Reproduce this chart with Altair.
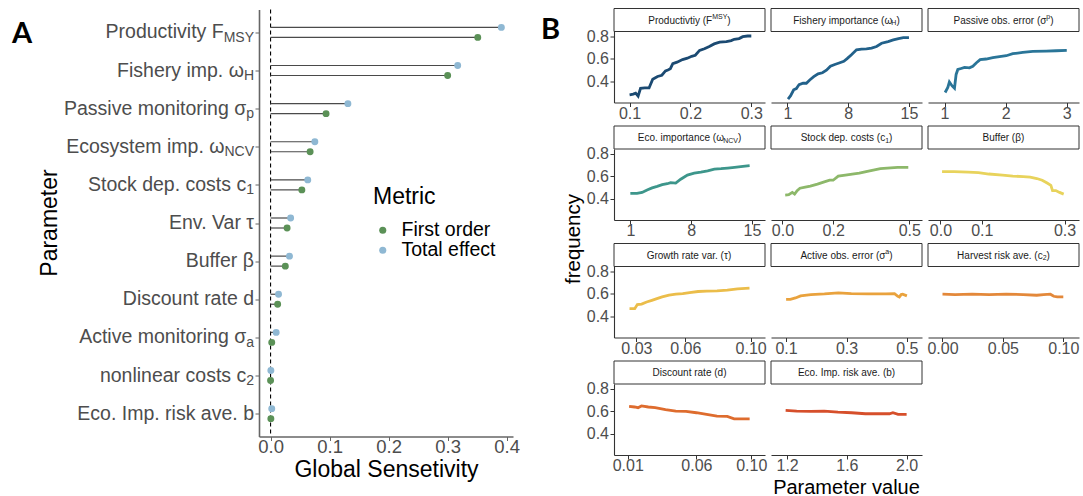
import altair as alt
import pandas as pd

FONT = "Liberation Sans"
GRAY = "#4d4d4d"
AXC = "#333333"

# ---------------- Panel A data ----------------
a_params = ["Productivity", "Fishery imp.", "Passive monitoring", "Ecosystem imp.",
            "Stock dep. costs", "Env. Var", "Buffer", "Discount rate",
            "Active monitoring", "nonlinear costs", "Eco. Imp. risk ave."]
a_label_main = ["Productivity F", "Fishery imp. ω", "Passive monitoring σ", "Ecosystem imp. ω",
                "Stock dep. costs c", "Env. Var τ", "Buffer β", "Discount rate d",
                "Active monitoring σ", "nonlinear costs c", "Eco. Imp. risk ave. b"]
a_label_sub = ["MSY", "H", "p", "NCV", "1", "", "", "", "a", "2", ""]
a_first_order = [0.351, 0.300, 0.094, 0.067, 0.053, 0.028, 0.025, 0.012, 0.002, 0.000, 0.0005]
a_total_effect = [0.391, 0.317, 0.131, 0.075, 0.063, 0.034, 0.032, 0.0135, 0.0095, 0.0005, 0.002]
metrics = ["First order", "Total effect"]
metric_colors = ["#5b9157", "#8fb8d3"]

# ---------------- Panel B data ----------------
b_main = ["Productivtiy (F", "Fishery importance (ω", "Passive obs. error (σ",
          "Eco. importance (ω", "Stock dep. costs (c", "Buffer (β)",
          "Growth rate var. (τ)", "Active obs. error (σ", "Harvest risk ave. (c",
          "Discount rate (d)", "Eco. Imp. risk ave. (b)"]
b_script = ["MSY", "H", "p", "NCV", "1", "", "", "a", "2", "", ""]
b_kind = ["sup", "sub", "sup", "sub", "sub", "", "", "sup", "sub", "", ""]
b_close = [")", ")", ")", ")", ")", "", "", ")", ")", "", ""]

prod_x = [0.100, 0.106, 0.110, 0.114, 0.118, 0.125, 0.132, 0.138, 0.146, 0.153, 0.159, 0.163,
          0.167, 0.171, 0.178, 0.187, 0.195, 0.202, 0.208, 0.215, 0.223, 0.231, 0.239, 0.248,
          0.259, 0.267, 0.272, 0.280, 0.286, 0.294, 0.300]
prod_y = [0.278, 0.284, 0.293, 0.267, 0.336, 0.339, 0.339, 0.417, 0.441, 0.452, 0.490, 0.499,
          0.510, 0.554, 0.568, 0.591, 0.603, 0.620, 0.629, 0.672, 0.687, 0.707, 0.730, 0.745,
          0.751, 0.759, 0.771, 0.777, 0.794, 0.800, 0.800]
fish_x = [1.08, 1.38, 1.73, 2.04, 2.35, 2.81, 3.19, 3.58, 4.04, 4.54, 5.04, 5.50, 5.96, 6.46,
          6.96, 7.50, 7.88, 8.38, 8.96, 9.54, 10.10, 10.70, 11.27, 11.85, 12.60, 13.20, 13.80,
          14.35, 15.00]
fish_y = [0.241, 0.270, 0.323, 0.334, 0.369, 0.381, 0.381, 0.410, 0.439, 0.465, 0.474, 0.497,
          0.532, 0.547, 0.561, 0.576, 0.599, 0.634, 0.678, 0.684, 0.686, 0.692, 0.707, 0.736,
          0.751, 0.765, 0.777, 0.785, 0.785]
pass_x = [1.01, 1.054, 1.08, 1.125, 1.163, 1.19, 1.218, 1.272, 1.327, 1.409, 1.463, 1.518,
          1.583, 1.681, 1.79, 1.90, 2.01, 2.117, 2.28, 2.444, 2.662, 2.826, 3.00]
pass_y = [0.299, 0.343, 0.392, 0.357, 0.337, 0.459, 0.503, 0.512, 0.521, 0.518, 0.532, 0.561,
          0.590, 0.596, 0.608, 0.617, 0.625, 0.643, 0.654, 0.663, 0.666, 0.669, 0.672]
eco_x = [1.0, 1.77, 2.35, 2.93, 3.51, 4.09, 4.67, 5.25, 5.64, 6.22, 6.80, 7.57, 8.35, 9.12,
         9.90, 10.67, 11.44, 12.20, 12.99, 13.96, 14.73]
eco_y = [0.446, 0.446, 0.455, 0.477, 0.495, 0.508, 0.523, 0.532, 0.542, 0.538, 0.572, 0.609,
         0.625, 0.634, 0.646, 0.662, 0.665, 0.671, 0.677, 0.686, 0.692]
stock_x = [0.011, 0.025, 0.039, 0.048, 0.058, 0.069, 0.090, 0.110, 0.138, 0.165, 0.186, 0.200,
           0.220, 0.248, 0.275, 0.303, 0.330, 0.358, 0.386, 0.413, 0.454, 0.496]
stock_y = [0.431, 0.434, 0.455, 0.440, 0.471, 0.492, 0.502, 0.511, 0.529, 0.548, 0.563, 0.563,
           0.600, 0.609, 0.618, 0.625, 0.640, 0.652, 0.665, 0.671, 0.677, 0.677]
buf_x = [0.004, 0.033, 0.067, 0.092, 0.117, 0.150, 0.175, 0.200, 0.217, 0.233, 0.246, 0.258,
         0.267, 0.271, 0.279, 0.288, 0.298]
buf_y = [0.640, 0.640, 0.634, 0.631, 0.618, 0.609, 0.600, 0.594, 0.591, 0.578, 0.563, 0.538,
         0.517, 0.471, 0.471, 0.455, 0.440]
grow_x = [0.0258, 0.029, 0.0306, 0.0332, 0.0363, 0.0395, 0.0426, 0.0458, 0.050, 0.0542,
          0.0584, 0.0626, 0.0678, 0.0731, 0.0794, 0.0857, 0.092, 0.0993]
grow_y = [0.466, 0.466, 0.502, 0.507, 0.525, 0.540, 0.555, 0.570, 0.585, 0.594, 0.600, 0.609,
          0.618, 0.621, 0.624, 0.630, 0.642, 0.648]
act_x = [0.100, 0.114, 0.131, 0.148, 0.182, 0.227, 0.273, 0.316, 0.373, 0.430, 0.459, 0.470,
         0.475, 0.481, 0.486, 0.500]
act_y = [0.549, 0.549, 0.561, 0.579, 0.591, 0.597, 0.606, 0.600, 0.597, 0.597, 0.600, 0.576,
         0.570, 0.591, 0.594, 0.579]
harv_x = [0.0, 0.0104, 0.0245, 0.0386, 0.0527, 0.0668, 0.078, 0.0837, 0.0893, 0.0921, 0.095, 0.100]
harv_y = [0.594, 0.591, 0.594, 0.591, 0.594, 0.591, 0.585, 0.591, 0.594, 0.576, 0.570, 0.570]
disc_x = [0.011, 0.015, 0.0175, 0.020, 0.025, 0.030, 0.0375, 0.045, 0.0525, 0.060, 0.0675,
          0.075, 0.0825, 0.0875, 0.0925, 0.0988]
disc_y = [0.642, 0.636, 0.630, 0.645, 0.636, 0.630, 0.612, 0.600, 0.597, 0.585, 0.570, 0.555,
          0.552, 0.531, 0.531, 0.531]
ecor_x = [1.19, 1.264, 1.356, 1.448, 1.54, 1.632, 1.724, 1.816, 1.885, 1.908, 1.943, 2.0]
ecor_y = [0.606, 0.600, 0.597, 0.600, 0.591, 0.585, 0.576, 0.576, 0.576, 0.585, 0.570, 0.570]

b_x = [prod_x, fish_x, pass_x, eco_x, stock_x, buf_x, grow_x, act_x, harv_x, disc_x, ecor_x]
b_y = [prod_y, fish_y, pass_y, eco_y, stock_y, buf_y, grow_y, act_y, harv_y, disc_y, ecor_y]
b_domains = [[0.0744, 0.3225], [-0.88, 16.5], [0.73, 3.2], [-0.88, 16.5], [-0.045, 0.55],
             [-0.03, 0.335], [0.0163, 0.1088], [0.05, 0.55], [-0.012, 0.113], [0.0, 0.11],
             [1.092, 2.103]]
b_ticks = [[0.1, 0.2, 0.3], [1, 8, 15], [1, 2, 3], [1, 8, 15], [0.0, 0.2, 0.5],
           [0.0, 0.1, 0.3], [0.03, 0.06, 0.10], [0.1, 0.3, 0.5], [0.0, 0.05, 0.10],
           [0.01, 0.06, 0.10], [1.2, 1.6, 2.0]]
b_formats = [".1f", "d", "d", "d", ".1f", ".1f", ".2f", ".1f", ".2f", ".2f", ".1f"]
b_colors = ["#1b4a72", "#22618a", "#2a7598", "#3d968b", "#8db86a", "#e8d35c",
            "#ebbd4a", "#e9a23d", "#e3883a", "#de6c2e", "#d64f2b"]
b_ydomain = [0.21, 0.84]
b_yticks = [0.4, 0.6, 0.8]

# ---------------- text width helper (Arial metrics) ----------------
_w = {}
for ch in "ijl": _w[ch] = 0.222
for ch in " .ft!I": _w[ch] = 0.278
for ch in "()r": _w[ch] = 0.333
for ch in "cksvxyzJ": _w[ch] = 0.5
for ch in "0123456789abdeghnopqu": _w[ch] = 0.556
for ch in "FTZ": _w[ch] = 0.611
for ch in "ABEKPSVXY": _w[ch] = 0.667
for ch in "CDHNRUw": _w[ch] = 0.722
for ch in "GOQ": _w[ch] = 0.778
for ch in "mM": _w[ch] = 0.833
_w["W"] = 0.944
_w["L"] = 0.556
_w["ω"] = 0.70
_w["σ"] = 0.60
_w["τ"] = 0.45
_w["β"] = 0.57


def tw(s, size):
    return sum(_w.get(ch, 0.556) for ch in s) * size


one = pd.DataFrame({"k": [0]})

# ---------------- Panel A ----------------
# panel A's plot area starts SHIFT px above panel B's first plot row
SHIFT = 22
WA, HA = 254, 427
HV = HA - SHIFT
rows_a = []
for p, f, t in zip(a_params, a_first_order, a_total_effect):
    rows_a.append({"param": p, "metric": metrics[0], "value": f})
    rows_a.append({"param": p, "metric": metrics[1], "value": t})
dfA = pd.DataFrame(rows_a)

SUBF = 14
MAINF = 19.5
dfL = pd.DataFrame({"param": a_params, "main": a_label_main, "sub": a_label_sub})
dfL["mx"] = [-5 - tw(s, SUBF) for s in a_label_sub]

xscA = alt.Scale(domain=[-0.0196, 0.4107], nice=False, zero=False)
yscA = alt.Scale(type="point", domain=a_params, padding=0.6, range=[-SHIFT, HV])
axXA = alt.Axis(values=[0.0, 0.1, 0.2, 0.3, 0.4], format=".1f", title="Global Sensetivity",
                titleFontSize=23, titleFontWeight="normal", titleColor="black", titlePadding=2,
                labelFontSize=18.5, labelColor=GRAY, labelPadding=-3, tickSize=4,
                tickColor="#666666", domainColor="#666666", domainWidth=1.6, grid=False,
                labelFlush=False)
axYA = alt.Axis(labels=False, ticks=True, tickSize=4, tickColor="#666666",
                domainColor="#666666", domainWidth=1.6, title=None, grid=False)
colA = alt.Color("metric:N", scale=alt.Scale(domain=metrics, range=metric_colors),
                 legend=alt.Legend(orient="none", legendX=114, legendY=176 - SHIFT,
                                   title="Metric", titleFontSize=23, titleFontWeight="normal",
                                   titleColor="black", labelFontSize=19.5, labelColor="black",
                                   symbolType="circle", symbolSize=50, symbolStrokeWidth=0,
                                   titlePadding=12, rowPadding=-5, padding=0, labelOffset=9))

baseA = alt.Chart(dfA)
layersA = [
    alt.Chart(one).transform_calculate(z="0").mark_rule(color="black", strokeDash=[4, 3],
                                                        strokeWidth=1.1)
    .encode(x=alt.X("z:Q", scale=xscA, axis=axXA), y=alt.value(-SHIFT), y2=alt.value(HV)),
]
for m, off in [("Total effect", -5), ("First order", 5)]:
    sub = baseA.transform_filter(alt.datum.metric == m).transform_calculate(z="0")
    layersA.append(sub.mark_rule(color="#4a4a4a", strokeWidth=1.2, yOffset=off).encode(
        x=alt.X("z:Q", scale=xscA, axis=axXA), x2="value:Q",
        y=alt.Y("param:N", scale=yscA, axis=axYA)))
    layersA.append(sub.mark_circle(size=48, opacity=1, yOffset=off).encode(
        x=alt.X("value:Q", scale=xscA, axis=axXA),
        y=alt.Y("param:N", scale=yscA, axis=axYA), color=colA))

layersA.append(alt.Chart(dfL).mark_text(align="right", baseline="middle", fontSize=MAINF,
                                        color=GRAY).encode(
    x=alt.X("mx:Q", scale=None), y=alt.Y("param:N", scale=yscA, axis=axYA), text="main:N"))
layersA.append(alt.Chart(dfL).mark_text(align="right", baseline="middle", fontSize=SUBF,
                                        color=GRAY, dy=5.5).encode(
    x=alt.value(-5), y=alt.Y("param:N", scale=yscA, axis=axYA), text="sub:N"))
layersA.append(alt.Chart(one).mark_text(text="Parameter", angle=270, fontSize=23, color="black",
                                        align="center", baseline="alphabetic").encode(
    x=alt.value(-202), y=alt.value(HA / 2 - SHIFT)))
layersA.append(alt.Chart(one).mark_text(text="A", fontSize=29, fontWeight="bold", font="Lato",
                                        color="black", align="left", baseline="alphabetic").encode(
    x=alt.value(-247), y=alt.value(33 - SHIFT)))
panelA = alt.layer(*layersA).properties(width=WA, height=HV)

# ---------------- Panel B ----------------
PW, PH, SH = 151, 71, 23
STF, SCF = 10, 7


def panel_b(i):
    df = pd.DataFrame({"x": b_x[i], "y": b_y[i]})
    xaxis = alt.Axis(values=b_ticks[i], format=b_formats[i], title=None, labelFontSize=16,
                     labelColor=GRAY, labelPadding=-1.5, tickSize=4, tickColor=AXC,
                     domainColor=AXC, domainWidth=1.1, grid=False, labelFlush=False,
                     labelOverlap=False)
    if i % 3 == 0:
        yaxis = alt.Axis(values=b_yticks, format=".1f", title=None, labelFontSize=16,
                         labelColor=GRAY, labelPadding=1.5, tickSize=4, tickColor=AXC,
                         domainColor=AXC, domainWidth=1.1, grid=False)
    else:
        yaxis = None
    base = alt.Chart(one)
    lay = [alt.Chart(df).mark_line(color=b_colors[i], strokeWidth=2.8).encode(
        x=alt.X("x:Q", scale=alt.Scale(domain=b_domains[i], nice=False, zero=False), axis=xaxis),
        y=alt.Y("y:Q", scale=alt.Scale(domain=b_ydomain, nice=False, zero=False), axis=yaxis))]
    # strip header (drawn above the plot area)
    lay.append(base.mark_rect(fill="white", stroke=AXC, strokeWidth=1).encode(
        x=alt.value(0), x2=alt.value(PW), y=alt.value(-SH), y2=alt.value(0)))
    m, s, c = b_main[i], b_script[i], b_close[i]
    wm, ws, wc = tw(m, STF), tw(s, SCF), tw(c, STF)
    x0 = PW / 2 - (wm + ws + wc) / 2
    yc = -SH / 2 + 0.5
    lay.append(base.mark_text(text=m, align="left", baseline="middle", fontSize=STF,
                              color="#1a1a1a").encode(x=alt.value(x0), y=alt.value(yc)))
    if s:
        lay.append(base.mark_text(text=s, align="left", baseline="middle", fontSize=SCF,
                                  color="#1a1a1a", dy=-3.5 if b_kind[i] == "sup" else 2.5)
                   .encode(x=alt.value(x0 + wm), y=alt.value(yc)))
    if c:
        lay.append(base.mark_text(text=c, align="left", baseline="middle", fontSize=STF,
                                  color="#1a1a1a").encode(x=alt.value(x0 + wm + ws),
                                                          y=alt.value(yc)))
    if i == 0:
        lay.append(base.mark_text(text="B", fontSize=29, fontWeight="bold", font="Lato",
                                  color="black", align="left", baseline="alphabetic").encode(
            x=alt.value(-73), y=alt.value(7)))
    if i == 3:
        lay.append(base.mark_text(text="frequency", angle=270, fontSize=20.5, color="black",
                                  align="center", baseline="alphabetic").encode(
            x=alt.value(-34), y=alt.value(90)))
    if i == 10:
        lay.append(base.mark_text(text="Parameter value", fontSize=20, color="black",
                                  align="center", baseline="alphabetic").encode(
            x=alt.value(PW / 2), y=alt.value(109.5)))
    return alt.layer(*lay).properties(width=PW, height=PH)


panelB = alt.concat(*[panel_b(i) for i in range(11)], columns=3,
                    spacing={"row": 46.5, "column": 6}, bounds="flush")

chart = (
    alt.hconcat(panelA, panelB, spacing=21)
    .resolve_scale(color="independent")
    .properties(padding={"left": 12, "top": 7.5, "right": 0, "bottom": 0})
    .configure(font=FONT)
    .configure_view(stroke=None)
)

chart.save("out.html", embed_options={"renderer": "svg", "actions": False})
